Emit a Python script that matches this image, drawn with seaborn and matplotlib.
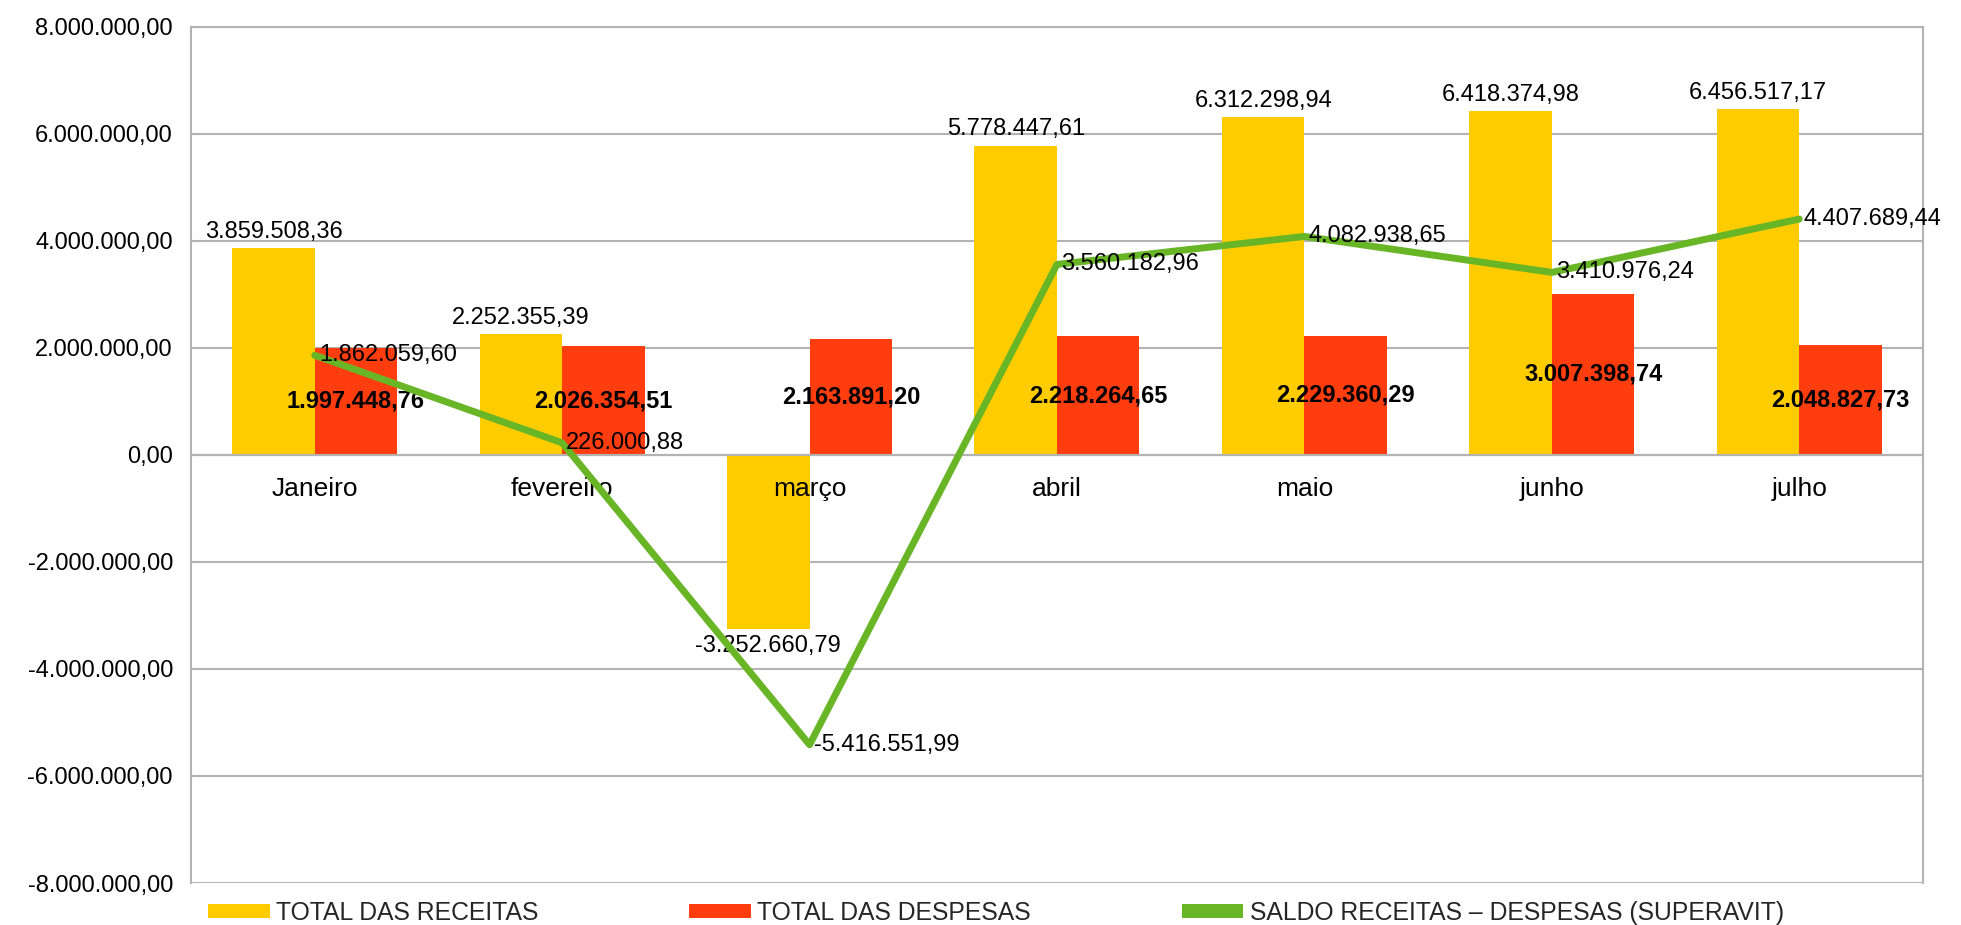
import numpy as np
import pandas as pd
import matplotlib
matplotlib.use("Agg")
import matplotlib.pyplot as plt
import seaborn as sns
from matplotlib.patches import Patch
from matplotlib.ticker import FuncFormatter, FixedLocator

# data
meses = ["Janeiro", "fevereiro", "março", "abril", "maio", "junho", "julho"]
receitas = [3859508.36, 2252355.39, -3252660.79, 5778447.61, 6312298.94, 6418374.98, 6456517.17]
despesas = [1997448.76, 2026354.51, 2163891.20, 2218264.65, 2229360.29, 3007398.74, 2048827.73]
saldo = [1862059.60, 226000.88, -5416551.99, 3560182.96, 4082938.65, 3410976.24, 4407689.44]

serie_names = ["TOTAL DAS RECEITAS", "TOTAL DAS DESPESAS", "SALDO RECEITAS – DESPESAS (SUPERAVIT)"]
yticks = [-8e6, -6e6, -4e6, -2e6, 0, 2e6, 4e6, 6e6, 8e6]

YELLOW = "#ffcc00"
RED = "#ff3d0f"
GREEN = "#68b626"
GRID = "#b3b3b3"


def br(v):
    # brazilian number format 1.234.567,89
    s = f"{v:,.2f}"
    return s.replace(",", "#").replace(".", ",").replace("#", ".")


sns.set_style("white")
plt.rcParams["font.family"] = ["Liberation Sans", "DejaVu Sans"]
FS = 17

df = pd.DataFrame({"mes": meses * 2,
                   "valor": receitas + despesas,
                   "serie": [serie_names[0]] * 7 + [serie_names[1]] * 7})

fig = plt.figure(figsize=(19.61, 9.25), dpi=100)
ax = fig.add_axes([0.0974, 0.0454, 0.9806 - 0.0974, 0.971 - 0.0454])

sns.barplot(data=df, x="mes", y="valor", hue="serie", order=meses,
            palette=[YELLOW, RED], width=0.667, gap=0, saturation=1,
            legend=False, ax=ax)
for bar in ax.patches:
    bar.set_linewidth(0)

pos = np.arange(len(meses))
sns.lineplot(x=pos, y=saldo, color=GREEN, linewidth=5, ax=ax, zorder=5)

# data labels
ax.bar_label(ax.containers[0], labels=[br(v) for v in receitas],
             padding=4, fontsize=FS, color="black")
ax.bar_label(ax.containers[1], labels=[br(v) for v in despesas],
             label_type="center", fontsize=FS, fontweight="bold", color="black")
for x, v in zip(pos, saldo):
    ax.annotate(br(v), (x, v), xytext=(3, 0), textcoords="offset points",
                ha="left", va="center", fontsize=FS, color="black", zorder=6)

# axes
ax.set_xlim(-0.5, len(meses) - 0.5)
ax.set_ylim(-8e6, 8e6)
ax.set_yticks(yticks)
ax.yaxis.set_major_formatter(FuncFormatter(lambda v, p: br(v)))
ax.set_xlabel("")
ax.set_ylabel("")
ax.set_axisbelow(True)
ax.grid(axis="y", color=GRID, linewidth=1.5)
ax.grid(axis="x", visible=False)
ax.xaxis.set_zorder(4)

for s in ["left", "right", "top", "bottom"]:
    ax.spines[s].set_color(GRID)
    ax.spines[s].set_linewidth(1.5)
ax.spines["bottom"].set_position(("data", 0))

ax.tick_params(axis="y", which="major", length=8, color=GRID, width=1.5,
               labelsize=FS, pad=5, labelcolor="black")
ax.tick_params(axis="x", which="major", length=0, labelsize=19, pad=16,
               labelcolor="black")
ax.xaxis.set_minor_locator(FixedLocator(pos[:-1] + 0.5))
ax.tick_params(axis="x", which="minor", length=9, color=GRID, width=1.5,
               direction="out")

# legend below the plot
handles = [Patch(facecolor=YELLOW, edgecolor="none"),
           Patch(facecolor=RED, edgecolor="none"),
           Patch(facecolor=GREEN, edgecolor="none")]
fig.legend(handles, serie_names, ncol=3, loc="center left",
           bbox_to_anchor=(208 / 1961, 12 / 925), frameon=False,
           fontsize=17.8, handlelength=2.5, handleheight=0.5,
           handletextpad=0.25, columnspacing=6.1, borderpad=0, borderaxespad=0)

fig.savefig("out.png", dpi=100)
